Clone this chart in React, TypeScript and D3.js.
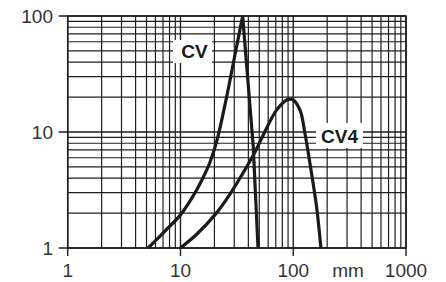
import React from "react";
import * as d3 from "d3";

const xTicks = [1, 10, 100, 1000];
const xTickLabels = ["1", "10", "100", "1000"];
const yTicks = [1, 10, 100];
const yTickLabels = ["1", "10", "100"];
const unitLabel = "mm";

// CV curve: rising side (ends at peak) and falling side (starts at peak)
const cvRiseX = [5.16, 7.29, 10, 12.65, 15.5, 18.3, 21.1, 25.7, 29.4, 35.6];
const cvRiseY = [1, 1.4, 1.93, 2.7, 3.86, 5.51, 8.53, 20.2, 39.1, 100];
const cvFallX = [35.6, 44.2, 48.7];
const cvFallY = [100, 7.47, 1];

const cv4X = [10, 14.0, 20.2, 27.5, 37.2, 45.8, 54.2, 71.3, 87.4, 98.4, 114.6, 127, 140.6, 161, 176];
const cv4Y = [1, 1.32, 1.93, 2.92, 4.7, 6.72, 9.42, 15.5, 18.9, 19.06, 15.5, 9.75, 5.37, 2.27, 1];

const seriesLabels = ["CV", "CV4"];

const W = 446;
const H = 282;
const L = 67.7;
const R = 406;
const T = 16;
const B = 248;

export default function App() {
  const x = d3.scaleLog().domain([1, 1000]).range([L, R]);
  const y = d3.scaleLog().domain([1, 100]).range([B, T]);

  const minorX: number[] = [];
  for (let d = 1; d < 1000; d *= 10) for (let k = 2; k <= 9; k++) minorX.push(d * k);
  const minorY: number[] = [];
  for (let d = 1; d < 100; d *= 10) for (let k = 2; k <= 9; k++) minorY.push(d * k);

  const toPts = (xs: number[], ys: number[]) => xs.map((v, i) => [v, ys[i]] as [number, number]);
  const smooth = d3
    .line<[number, number]>()
    .x((d) => x(d[0]))
    .y((d) => y(d[1]))
    .curve(d3.curveCatmullRom.alpha(0.5));
  const straight = d3
    .line<[number, number]>()
    .x((d) => x(d[0]))
    .y((d) => y(d[1]))
    .curve(d3.curveLinear);

  const gridColor = "#1e1e1e";
  const textColor = "#333";
  const font = "'Liberation Sans', Arial, Helvetica, sans-serif";

  return (
    <svg
      width={W}
      height={H}
      style={{ position: "absolute", left: 0, top: 0, background: "#fff" }}
    >
      <rect x={0} y={0} width={W} height={H} fill="#fff" />
      {/* grid */}
      {minorX.map((v) => (
        <line key={"gx" + v} x1={x(v)} x2={x(v)} y1={T} y2={B} stroke={gridColor} strokeWidth={1.2} />
      ))}
      {minorY.map((v) => (
        <line key={"gy" + v} x1={L} x2={R} y1={y(v)} y2={y(v)} stroke={gridColor} strokeWidth={1.2} />
      ))}
      {xTicks.map((v) => (
        <line key={"mx" + v} x1={x(v)} x2={x(v)} y1={T} y2={B + 8} stroke={gridColor} strokeWidth={1.4} />
      ))}
      {yTicks.map((v) => (
        <line key={"my" + v} x1={L - 9} x2={R} y1={y(v)} y2={y(v)} stroke={gridColor} strokeWidth={1.4} />
      ))}
      <rect x={L} y={T} width={R - L} height={B - T} fill="none" stroke={gridColor} strokeWidth={1.5} />

      {/* curves */}
      <path d={smooth(toPts(cvRiseX, cvRiseY)) || ""} fill="none" stroke="#1a1a1a" strokeWidth={3.2} strokeLinejoin="round" />
      <path d={straight(toPts(cvFallX, cvFallY)) || ""} fill="none" stroke="#1a1a1a" strokeWidth={3.2} strokeLinejoin="round" />
      <path d={smooth(toPts(cv4X, cv4Y)) || ""} fill="none" stroke="#1a1a1a" strokeWidth={3.2} strokeLinejoin="round" />

      {/* series labels */}
      <rect x={173} y={40} width={39} height={23} fill="#fff" />
      <text x={194.5} y={58} textAnchor="middle" fontFamily={font} fontWeight="bold" fontSize={19} fill="#1a1a1a">
        {seriesLabels[0]}
      </text>
      <rect x={316} y={123} width={47} height={25} fill="#fff" />
      <text x={339.5} y={143} textAnchor="middle" fontFamily={font} fontWeight="bold" fontSize={19} fill="#1a1a1a">
        {seriesLabels[1]}
      </text>

      {/* axis labels */}
      {yTicks.map((v, i) => (
        <text key={"yl" + v} x={53} y={y(v)} dy="0.35em" textAnchor="end" fontFamily={font} fontSize={19} fill={textColor}>
          {yTickLabels[i]}
        </text>
      ))}
      {xTicks.map((v, i) => (
        <text key={"xl" + v} x={x(v)} y={277} textAnchor="middle" fontFamily={font} fontSize={19} fill={textColor}>
          {xTickLabels[i]}
        </text>
      ))}
      <text x={348} y={277} textAnchor="middle" fontFamily={font} fontSize={19} fill={textColor}>
        {unitLabel}
      </text>
    </svg>
  );
}
